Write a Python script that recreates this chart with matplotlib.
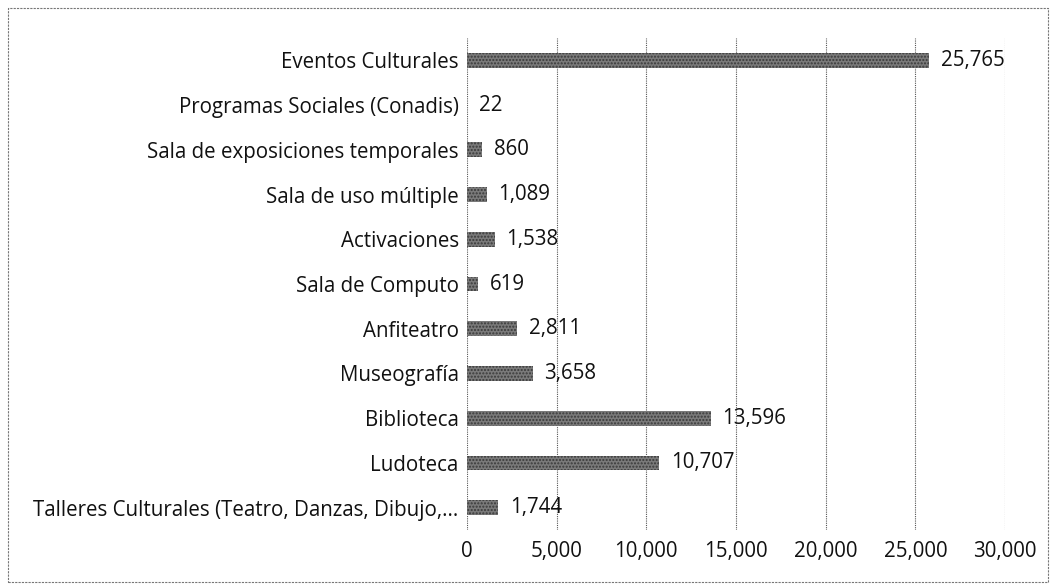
import matplotlib.pyplot as plt
from matplotlib.patches import Rectangle

categories = ['Eventos Culturales', 'Programas Sociales (Conadis)',
              'Sala de exposiciones temporales', 'Sala de uso múltiple',
              'Activaciones', 'Sala de Computo', 'Anfiteatro', 'Museografía',
              'Biblioteca', 'Ludoteca',
              'Talleres Culturales (Teatro, Danzas, Dibujo,...']
values = [25765, 22, 860, 1089, 1538, 619, 2811, 3658, 13596, 10707, 1744]
xticks = [0, 5000, 10000, 15000, 20000, 25000, 30000]

plt.rcParams['font.family'] = ['Open Sans', 'DejaVu Sans']
fs = 14.8

fig = plt.figure(figsize=(10.56, 5.85), dpi=100)
ax = fig.add_axes([467 / 1056, 1 - 530 / 585, (1005 - 467) / 1056, (530 - 38) / 585])

pos = list(range(len(categories)))[::-1]
ax.barh(pos, values, height=0.33, color='#7a7a7a', edgecolor='#3a3a3a',
        hatch='.....', linewidth=0, zorder=3)
for p, v in zip(pos, values):
    ax.text(v + 650, p, f'{v:,}', va='center', ha='left', fontsize=fs, color='#111111', zorder=4)

ax.set_xlim(0, 30000)
ax.set_ylim(-0.5, len(categories) - 0.5)
ax.set_yticks(pos)
ax.set_yticklabels(categories, fontsize=fs, color='#111111')
ax.set_xticks(xticks)
ax.set_xticklabels([f'{t:,}' for t in xticks], fontsize=fs, color='#111111')
ax.tick_params(length=0, axis='both')
ax.tick_params(axis='y', pad=6)
ax.tick_params(axis='x', pad=8)
ax.grid(axis='x', color='#555555', linestyle=(0, (1, 1)), linewidth=0.8, zorder=0)
for s in ax.spines.values():
    s.set_visible(False)

fig.patches.append(Rectangle((8 / 1056, 0.005), 1 - 16 / 1056, 1 - 8 / 585 - 0.005,
                             transform=fig.transFigure, fill=False,
                             edgecolor='#777777', linestyle=(0, (2, 1)), linewidth=0.8))

fig.savefig('out.png', dpi=100)
